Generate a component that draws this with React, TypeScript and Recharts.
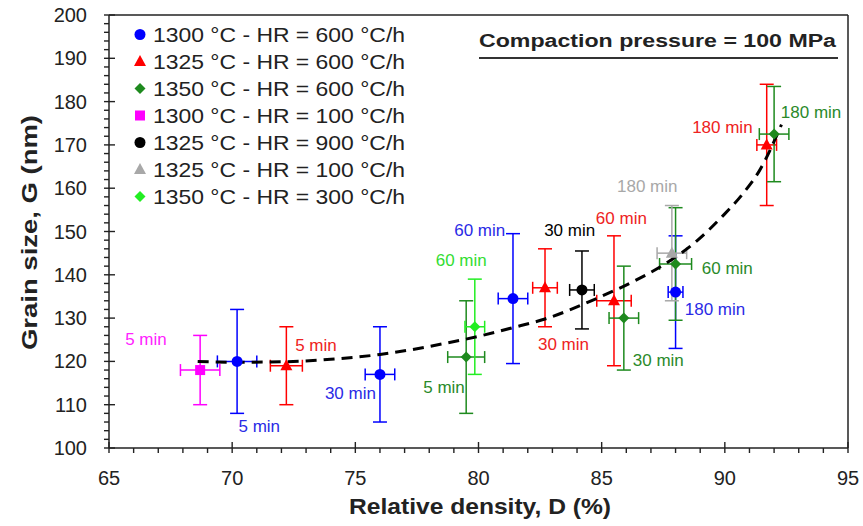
import React from "react";
import { ComposedChart, Scatter, Line, XAxis, YAxis, ErrorBar, Legend, Customized } from "recharts";

const FONT = '"Liberation Sans", Arial, Helvetica, sans-serif';

// series names, colours and marker kinds
const seriesNames = [
  "1300 °C - HR = 600 °C/h",
  "1325 °C - HR = 600 °C/h",
  "1350 °C - HR = 600 °C/h",
  "1300 °C - HR = 100 °C/h",
  "1325 °C - HR = 900 °C/h",
  "1325 °C - HR = 100 °C/h",
  "1350 °C - HR = 300 °C/h",
];
const seriesColors = ["#0000ff", "#ff0000", "#1e8a1e", "#ff00ff", "#000000", "#a8a8a8", "#22ee22"];
const seriesShapes = ["circle", "triangle", "diamond", "square", "circle", "triangle", "diamond"];

// D = relative density (%), G = grain size (nm), eD / eG = error half-widths
const s1300hr600 = [
  { D: 70.2, G: 120, eD: 0.8, eG: 12 },
  { D: 76.0, G: 117, eD: 0.6, eG: 11 },
  { D: 81.4, G: 134.5, eD: 0.6, eG: 15 },
  { D: 88.0, G: 136, eD: 0.3, eG: 13 },
];
const s1325hr600 = [
  { D: 72.2, G: 119, eD: 0.65, eG: 9 },
  { D: 82.7, G: 137, eD: 0.5, eG: 9 },
  { D: 85.5, G: 134, eD: 0.7, eG: 15 },
  { D: 91.7, G: 170, eD: 0.4, eG: 14 },
];
const s1350hr600 = [
  { D: 79.5, G: 121, eD: 0.75, eG: 13 },
  { D: 85.9, G: 130, eD: 0.6, eG: 12 },
  { D: 88.0, G: 142.5, eD: 0.65, eG: 13 },
  { D: 92.0, G: 172.5, eD: 0.6, eG: 11 },
];
const s1300hr100 = [{ D: 68.7, G: 118, eD: 0.8, eG: 8 }];
const s1325hr900 = [{ D: 84.2, G: 136.5, eD: 0.5, eG: 9 }];
const s1325hr100 = [{ D: 87.85, G: 145, eD: 0.6, eG: 11 }];
const s1350hr300 = [{ D: 79.85, G: 128, eD: 0.4, eG: 11 }];
const seriesData = [s1300hr600, s1325hr600, s1350hr600, s1300hr100, s1325hr900, s1325hr100, s1350hr300];

// dashed trend curve
const curveD = [68.6, 70, 72, 74, 76, 78.5, 80, 81.4, 82.7, 84.9, 86.3, 87.6, 88.9, 89.9, 90.7, 91.4, 92.3];
const curveG = [120, 119.8, 119.9, 120.5, 121.6, 124, 125.8, 127.8, 129.8, 134.8, 138.5, 142.6, 148, 153.5, 158.5, 164, 174.7];
const curve = curveD.map((D, i) => ({ D, G: curveG[i] }));

// time annotations (text, anchor in data units, colour)
const noteText = ["5 min", "5 min", "5 min", "30 min", "5 min", "60 min", "60 min", "30 min", "30 min", "60 min", "30 min", "180 min", "60 min", "180 min", "180 min", "180 min"];
const noteD = [66.5, 71.1, 73.4, 74.8, 78.6, 79.3, 80.05, 83.7, 83.45, 85.8, 87.3, 86.85, 90.1, 89.6, 89.9, 93.5];
const noteG = [125.1, 105, 123.7, 112.6, 114, 143.3, 150.2, 150.2, 124, 153, 120.1, 160.4, 141.4, 132.1, 174.1, 177.4];
const noteColor = ["#ff22ff", "#2a2ae6", "#ee2222", "#2a2ae6", "#2a8a2a", "#33dd33", "#2a2ae6", "#000000", "#ee2222", "#ee2222", "#2a8a2a", "#a8a8a8", "#2a8a2a", "#2a2ae6", "#ee2222", "#2a8a2a"];
const notes = noteText.map((t, i) => ({ t, D: noteD[i], G: noteG[i], c: noteColor[i] }));

// every tick position; labels only on multiples of 5 (x) / 10 (y)
const xTicks = Array.from({ length: 31 }, (_, i) => 65 + i);
const yTicks = Array.from({ length: 51 }, (_, i) => 100 + i * 2);

const AXIS = "#222";
const TICK = 5;
const X_MARGIN = 2;
const Y_MARGIN = 17;

function Marker({ kind, cx, cy, color }: { kind: string; cx: number; cy: number; color: string }) {
  if (kind === "triangle") {
    return <polygon points={`${cx},${cy - 6.5} ${cx - 6},${cy + 4.5} ${cx + 6},${cy + 4.5}`} fill={color} />;
  }
  if (kind === "diamond") {
    return <polygon points={`${cx},${cy - 5.5} ${cx + 5.5},${cy} ${cx},${cy + 5.5} ${cx - 5.5},${cy}`} fill={color} />;
  }
  if (kind === "square") {
    return <rect x={cx - 5} y={cy - 5} width={10} height={10} fill={color} />;
  }
  return <circle cx={cx} cy={cy} r={5.5} fill={color} />;
}

// tick mark + label; majors cross the axis line
const XTick = (props: any) => {
  const { x, y, payload } = props;
  const ay = y - TICK - X_MARGIN;
  const major = payload.value % 5 === 0;
  return (
    <g>
      <line x1={x} x2={x} y1={major ? ay - 6 : ay} y2={ay + TICK} stroke={AXIS} strokeWidth={1.4} />
      {major && (
        <text x={x} y={ay + 37} textAnchor="middle" fontFamily={FONT} fontSize={20} fill="#222">
          {payload.value}
        </text>
      )}
    </g>
  );
};

const YTick = (props: any) => {
  const { x, y, payload } = props;
  const ax = x + TICK + Y_MARGIN;
  const major = payload.value % 10 === 0;
  return (
    <g>
      <line x1={ax - TICK} x2={major ? ax + 6 : ax} y1={y} y2={y} stroke={AXIS} strokeWidth={1.4} />
      {major && (
        <text x={x} y={y + 7} textAnchor="end" fontFamily={FONT} fontSize={20} fill="#222">
          {payload.value}
        </text>
      )}
    </g>
  );
};

const NoteShape = (props: any) => (
  <text x={props.cx} y={props.cy} textAnchor="middle" dominantBaseline="central" fontFamily={FONT} fontSize={17} fill={props.payload.c}>
    {props.payload.t}
  </text>
);

const renderLegend = () => (
  <svg width={290} height={200}>
    {seriesNames.map((n, i) => (
      <g key={n}>
        <Marker kind={seriesShapes[i]} cx={7} cy={19.5 + i * 27} color={seriesColors[i]} />
        <text x={20} y={27 + i * 27} fontFamily={FONT} fontSize={21} fill="#222" textLength={252} lengthAdjust="spacingAndGlyphs">
          {n}
        </text>
      </g>
    ))}
  </svg>
);

const Titles = () => (
  <g fontFamily={FONT} fontWeight="bold" fill="#222">
    <text x={479} y={47} fontSize={18} textLength={357} lengthAdjust="spacingAndGlyphs">
      Compaction pressure = 100 MPa
    </text>
    <line x1={479} x2={838} y1={58} y2={58} stroke="#333" strokeWidth={2} />
    <text x={349} y={514} fontSize={22} textLength={262} lengthAdjust="spacingAndGlyphs">
      Relative density, D (%)
    </text>
    <text x={37} y={350} fontSize={22} textLength={235} lengthAdjust="spacingAndGlyphs" transform="rotate(-90 37 350)">
      Grain size, G (nm)
    </text>
  </g>
);

export default function App() {
  return (
    <div style={{ position: "absolute", left: 0, top: 0, width: 863, height: 526, background: "#fff" }}>
      <ComposedChart width={863} height={526} margin={{ top: 15, right: 15, bottom: 0, left: 0 }}>
        <XAxis
          dataKey="D"
          type="number"
          domain={[65, 95]}
          ticks={xTicks}
          interval={0}
          height={78}
          tickSize={TICK}
          tickMargin={X_MARGIN}
          tickLine={false}
          tick={XTick}
          stroke={AXIS}
          strokeWidth={1.5}
          allowDataOverflow
        />
        <XAxis xAxisId="top" type="number" domain={[65, 95]} orientation="top" mirror tick={false} tickLine={false} stroke={AXIS} strokeWidth={1.5} />
        <YAxis
          dataKey="G"
          type="number"
          domain={[100, 200]}
          ticks={yTicks}
          interval={0}
          width={109}
          tickSize={TICK}
          tickMargin={Y_MARGIN}
          tickLine={false}
          tick={YTick}
          stroke={AXIS}
          strokeWidth={1.5}
          allowDataOverflow
        />
        <YAxis yAxisId="right" type="number" domain={[100, 200]} orientation="right" mirror tick={false} tickLine={false} stroke={AXIS} strokeWidth={1.5} />

        {seriesData.map((data, i) => (
          <Scatter
            key={seriesNames[i]}
            name={seriesNames[i]}
            data={data}
            dataKey="G"
            fill={seriesColors[i]}
            isAnimationActive={false}
            shape={(p: any) => <Marker kind={seriesShapes[i]} cx={p.cx} cy={p.cy} color={seriesColors[i]} />}
          >
            <ErrorBar dataKey="eG" direction="y" width={7} stroke={seriesColors[i]} strokeWidth={1.5} isAnimationActive={false} />
            <ErrorBar dataKey="eD" direction="x" width={6} stroke={seriesColors[i]} strokeWidth={1.5} isAnimationActive={false} />
          </Scatter>
        ))}

        <Line
          data={curve}
          dataKey="G"
          type="monotone"
          stroke="#000"
          strokeWidth={3}
          strokeDasharray="11 7"
          dot={false}
          activeDot={false}
          legendType="none"
          isAnimationActive={false}
        />

        <Scatter data={notes} dataKey="G" legendType="none" shape={NoteShape} isAnimationActive={false} />

        <Legend
          layout="vertical"
          align="center"
          verticalAlign="middle"
          content={renderLegend}
          wrapperStyle={{ left: 133, top: 15, width: 290, height: 200 }}
        />
        <Customized component={Titles} />
      </ComposedChart>
    </div>
  );
}
